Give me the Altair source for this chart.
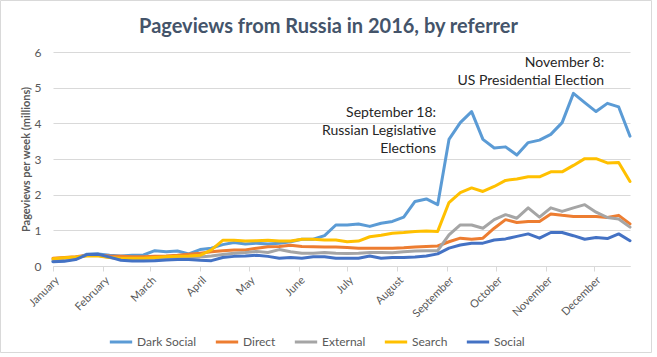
import altair as alt
import pandas as pd

# ---- data (weekly pageviews, millions) ----
week_start = "2016-01-01"
n_weeks = 52
series_names = ["Dark Social", "Direct", "External", "Search", "Social"]
series_colors = ["#5B9BD5", "#ED7D31", "#A5A5A5", "#FFC000", "#4472C4"]

dark_social = [0.13, 0.15, 0.20, 0.33, 0.34, 0.30, 0.28, 0.30, 0.31, 0.43,
               0.40, 0.42, 0.34, 0.46, 0.50, 0.60, 0.66, 0.62, 0.64, 0.62,
               0.64, 0.68, 0.75, 0.75, 0.85, 1.15, 1.15, 1.18, 1.11, 1.20,
               1.25, 1.37, 1.81, 1.88, 1.72, 3.55, 4.02, 4.33, 3.55, 3.31,
               3.34, 3.11, 3.46, 3.53, 3.69, 4.02, 4.84, 4.58, 4.33, 4.56,
               4.46, 3.64]
direct = [0.22, 0.24, 0.26, 0.30, 0.30, 0.28, 0.27, 0.26, 0.26, 0.27,
          0.28, 0.30, 0.33, 0.36, 0.40, 0.43, 0.45, 0.45, 0.50, 0.54,
          0.55, 0.58, 0.55, 0.54, 0.53, 0.53, 0.52, 0.50, 0.50, 0.50,
          0.50, 0.51, 0.53, 0.55, 0.56, 0.68, 0.78, 0.75, 0.78, 1.06,
          1.30, 1.22, 1.25, 1.25, 1.46, 1.42, 1.39, 1.39, 1.39, 1.36,
          1.42, 1.18]
external = [0.17, 0.20, 0.22, 0.30, 0.30, 0.24, 0.20, 0.20, 0.20, 0.21,
            0.22, 0.22, 0.23, 0.25, 0.28, 0.32, 0.36, 0.38, 0.41, 0.38,
            0.46, 0.40, 0.36, 0.36, 0.38, 0.36, 0.35, 0.36, 0.38, 0.38,
            0.37, 0.40, 0.42, 0.43, 0.43, 0.87, 1.15, 1.15, 1.06, 1.30,
            1.44, 1.34, 1.63, 1.37, 1.63, 1.53, 1.63, 1.72, 1.51, 1.36,
            1.32, 1.09]
search = [0.20, 0.23, 0.25, 0.28, 0.28, 0.24, 0.22, 0.22, 0.22, 0.24,
          0.26, 0.27, 0.28, 0.30, 0.45, 0.72, 0.72, 0.70, 0.71, 0.72,
          0.70, 0.70, 0.75, 0.75, 0.73, 0.73, 0.68, 0.70, 0.82, 0.86,
          0.92, 0.94, 0.97, 0.98, 0.97, 1.78, 2.06, 2.19, 2.09, 2.23,
          2.40, 2.44, 2.50, 2.50, 2.64, 2.64, 2.82, 3.01, 3.01, 2.89,
          2.90, 2.37]
social = [0.12, 0.13, 0.18, 0.32, 0.33, 0.25, 0.16, 0.14, 0.14, 0.15,
          0.17, 0.18, 0.18, 0.16, 0.15, 0.24, 0.27, 0.28, 0.30, 0.27,
          0.22, 0.24, 0.22, 0.26, 0.26, 0.22, 0.22, 0.22, 0.28, 0.22,
          0.24, 0.24, 0.25, 0.28, 0.34, 0.50, 0.59, 0.64, 0.64, 0.73,
          0.76, 0.83, 0.90, 0.78, 0.94, 0.94, 0.85, 0.75, 0.80, 0.77,
          0.90, 0.71]

y_ticks = [0, 1, 2, 3, 4, 5, 6]

ann_texts = ["September 18:\nRussian Legislative\nElections",
             "November 8:\nUS Presidential Election"]
ann_dates = ["2016-08-25", "2016-12-07"]
ann_values = [4.5, 5.88]

# ---- build tables ----
weeks = pd.date_range(week_start, periods=n_weeks, freq="7D")
rows = []
for name, vals in zip(series_names, [dark_social, direct, external, search, social]):
    for d, v in zip(weeks, vals):
        rows.append({"week": d, "referrer": name, "value": v})
df = pd.DataFrame(rows)
ann_df = pd.DataFrame({"date": pd.to_datetime(ann_dates), "value": ann_values, "label": ann_texts})

month_ticks = [alt.DateTime(year=2016, month=m, date=1) for m in range(1, 13)]
x_domain = [alt.DateTime(year=2016, month=1, date=1),
            alt.DateTime(year=2016, month=12, date=23)]

FONT = "Lato"
GRAY = "#595959"

x_enc = alt.X("week:T", title=None,
              scale=alt.Scale(domain=x_domain),
              axis=alt.Axis(values=month_ticks, format="%B", labelAngle=-45,
                            labelAlign="right", labelBaseline="top",
                            labelFontSize=11, labelColor=GRAY, labelFont=FONT,
                            labelPadding=3, grid=False, domainColor="#D9D9D9",
                            tickColor="#D9D9D9", tickSize=5, labelOverlap=False))
y_enc = alt.Y("value:Q", scale=alt.Scale(domain=[0, 6]),
              title="Pageviews per week (millions)",
              axis=alt.Axis(values=y_ticks, tickCount=7, labelOverlap=False,
                            domain=False, ticks=False,
                            gridColor="#D9D9D9", labelFontSize=12,
                            labelColor=GRAY, labelFont=FONT, labelPadding=12,
                            titleFont=FONT, titleFontSize=11, titleFontWeight="bold",
                            titleColor=GRAY, titlePadding=3))

lines = alt.Chart(df).mark_line(strokeWidth=3, strokeJoin="round", strokeCap="round").encode(
    x=x_enc,
    y=y_enc,
    color=alt.Color("referrer:N",
                    scale=alt.Scale(domain=series_names, range=series_colors),
                    legend=alt.Legend(title=None, orient="none", direction="horizontal",
                                      legendX=55, legendY=277,
                                      symbolType="stroke", symbolStrokeWidth=3,
                                      symbolSize=500, labelFont=FONT,
                                      labelFontSize=12, labelColor=GRAY,
                                      columnPadding=12, labelOffset=3)),
)

annotations = alt.Chart(ann_df).mark_text(
    align="right", baseline="top", lineBreak="\n", lineHeight=18,
    font=FONT, fontSize=14, color="#262626"
).encode(
    x="date:T",
    y="value:Q",
    text="label:N",
)

# thin outer chart-area border (decorative frame, like the original)
frame = alt.Chart(pd.DataFrame({"k": [0]})).mark_rect(
    fill=None, stroke="#D9D9D9", strokeWidth=1
).encode(
    x=alt.value(-52.5), x2=alt.value(598.5),
    y=alt.value(-51.5), y2=alt.value(300.5),
)

chart = alt.layer(lines, annotations, frame).properties(
    width=577,
    height=214,
    title=alt.TitleParams("Pageviews from Russia in 2016, by referrer",
                          font=FONT, fontSize=20, fontWeight="bold",
                          color="#44546A", anchor="middle", dx=-13, offset=-37),
    autosize=alt.AutoSizeParams(type="none"),
    padding={"left": 53, "top": 52, "right": 27, "bottom": 91},
    background="white",
).configure_view(stroke=None)

chart.save("out.html", embed_options={"renderer": "svg", "actions": False})
